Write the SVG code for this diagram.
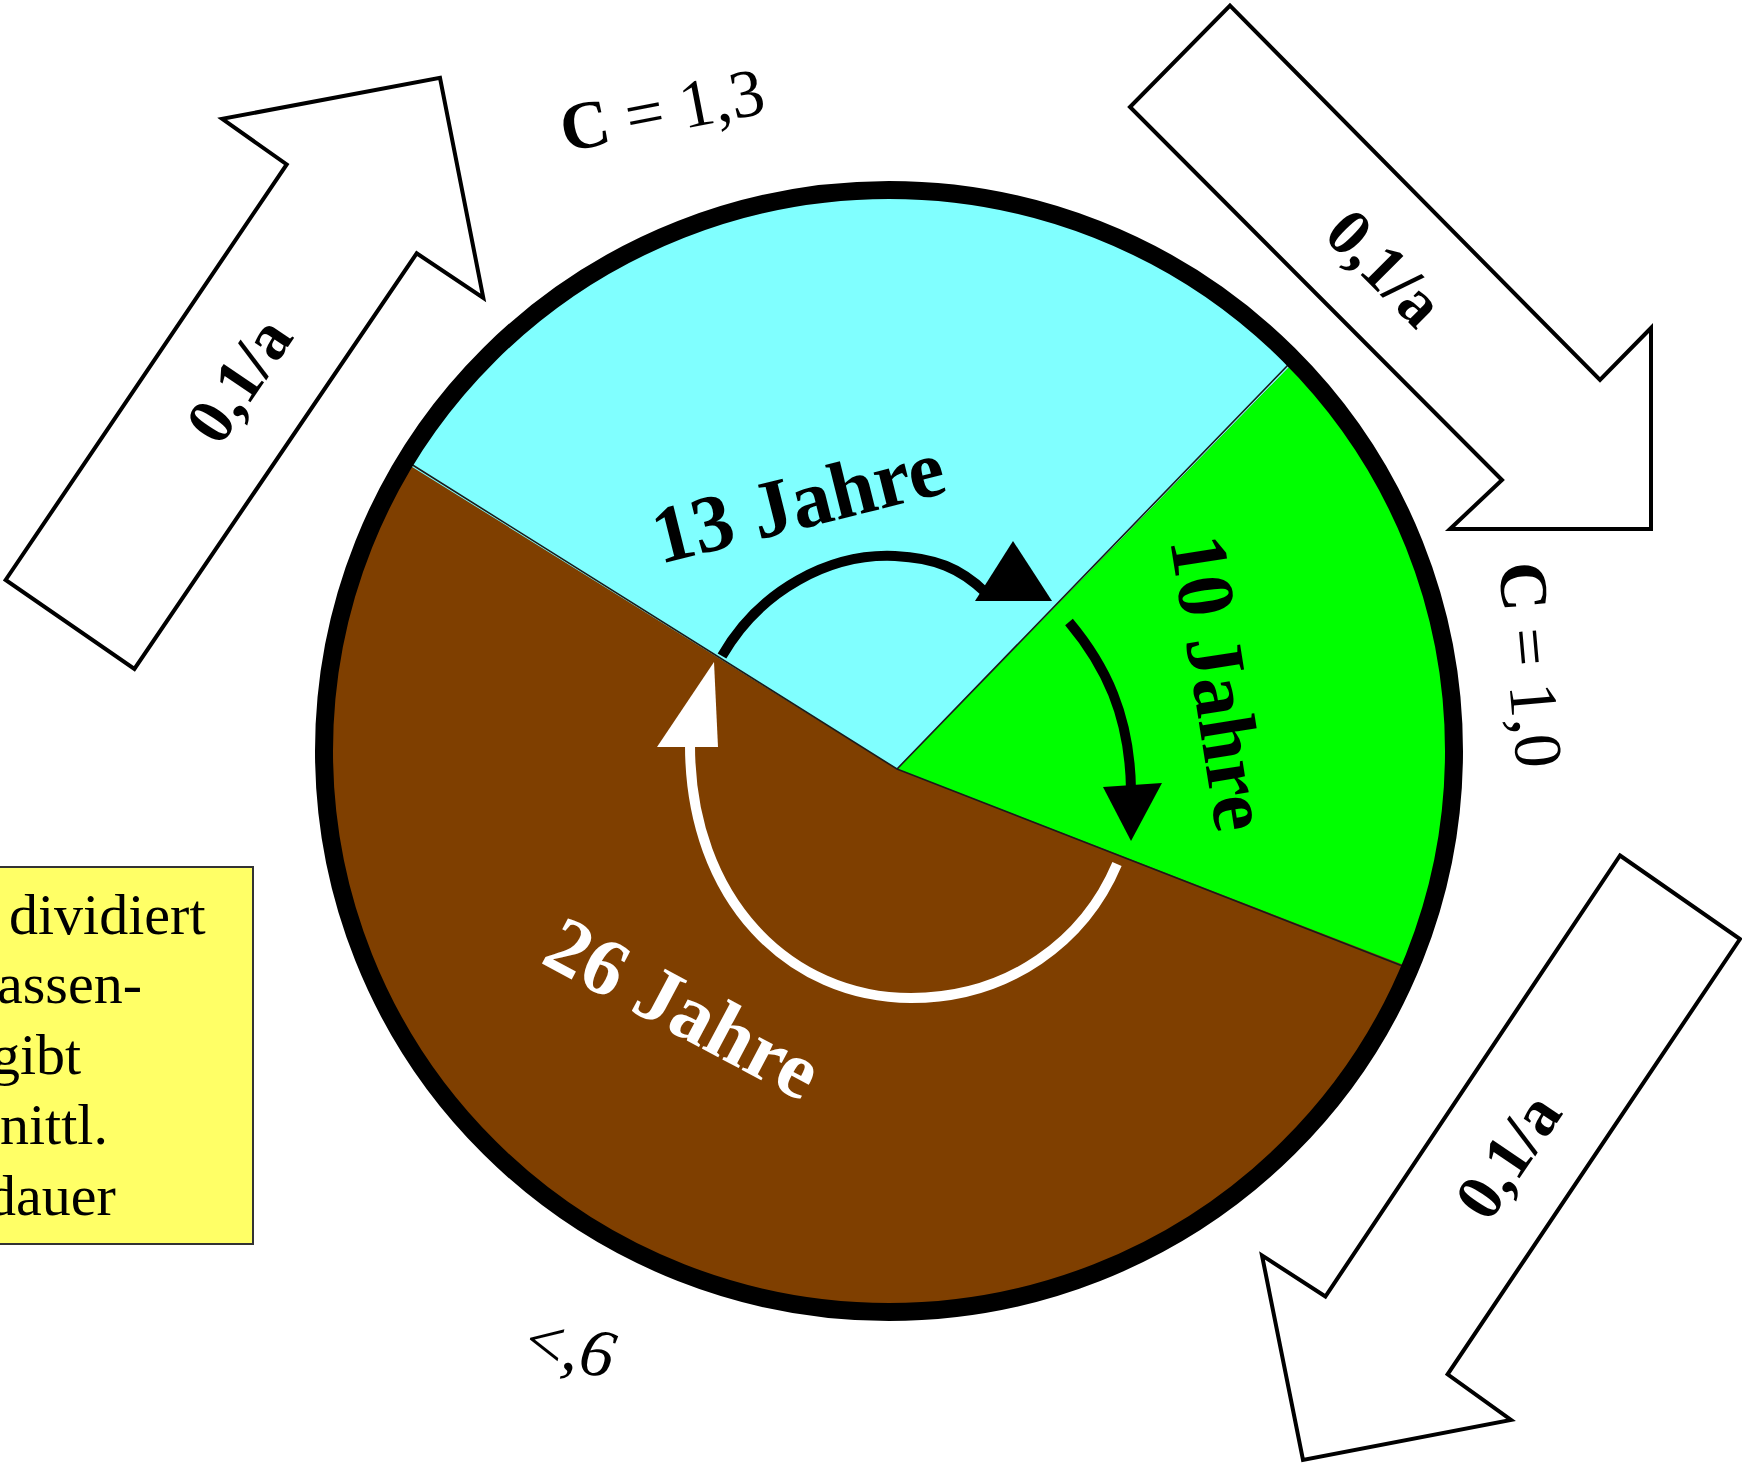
<svg xmlns="http://www.w3.org/2000/svg" width="1742" height="1465" viewBox="0 0 1742 1465">
<style>
.blk{fill:#fff;stroke:#000;stroke-width:4;stroke-linejoin:miter}
.serif{font-family:"Liberation Serif","Times New Roman",serif}
.lbl{font-weight:bold;font-size:66px;fill:#000}
.c{font-size:68px;fill:#000}
.yr{font-weight:bold;font-size:81px}
.box{font-size:58px;fill:#000}
.bnd{fill:none;stroke:#1a1a1a;stroke-width:1.6}
.cyc{fill:none;stroke-width:10}
</style>
<rect x="0" y="0" width="1742" height="1465" fill="#fff"/>

<g id="pool">
  <ellipse cx="889" cy="751" rx="565" ry="561" fill="#7F3F00"/>
  <path d="M 897 769 L 404.6 462.2 A 565 561 0 0 1 1295.1 360.9 Z" fill="#80FFFF"/>
  <path d="M 897 769 L 1295.1 360.9 A 565 561 0 0 1 1410.2 967.6 Z" fill="#00FF00"/>
  <path class="bnd" d="M 411 464 L 897 769 L 1289 364 M 897 769 L 1405 967"/>
  <ellipse cx="889" cy="751" rx="565" ry="561" fill="none" stroke="#000" stroke-width="18"/>
</g>

<g id="cycle-arrows">
  <path class="cyc" stroke="#000" d="M 722 656 C 760 590, 830 553, 895 556 C 935 558, 960 568, 985 592"/>
  <polygon points="975,601 1052,601 1013,541" fill="#000"/>
  <path class="cyc" stroke="#000" d="M 1069 622 C 1105 665, 1130 715, 1131 790"/>
  <polygon points="1103,787 1162,783 1131,841" fill="#000"/>
  <path class="cyc" stroke="#fff" stroke-width="11" d="M 1117 864 C 1085 940, 1010 998, 911 998 C 790 998, 690 900, 690 745"/>
  <polygon points="657,747 718,747 714,662" fill="#fff"/>
</g>

<g id="label-13">
  <text class="serif yr" fill="#000" transform="translate(660,564) rotate(-14)">13 Jahre</text>
</g>
<g id="label-10">
  <text class="serif yr" fill="#000" transform="translate(1170,540) rotate(81)">10 Jahre</text>
</g>
<g id="label-26">
  <text class="serif yr" fill="#fff" transform="translate(539,962) rotate(28)">26 Jahre</text>
</g>

<g id="flow-in">
  <polygon class="blk" points="5.6,580 286.7,164.4 222.2,118.9 440,77.8 483.3,297.8 416.7,253.3 134.4,668.9"/>
  <text class="serif lbl" text-anchor="middle" y="22" transform="translate(239,380) rotate(-56)">0,1/a</text>
</g>
<g id="flow-mid">
  <polygon class="blk" points="1230,5.6 1600,380 1651,328 1651,529 1450,529 1502,480 1130,107"/>
  <text class="serif lbl" text-anchor="middle" y="22" transform="translate(1385,268) rotate(45)">0,1/a</text>
</g>
<g id="flow-out">
  <polygon class="blk" points="1620,855.5 1740,939 1447.6,1374.3 1511,1420 1303,1460 1262,1255.4 1325.4,1296.5"/>
  <text class="serif lbl" text-anchor="middle" y="22" transform="translate(1508,1156) rotate(-56)">0,1/a</text>
</g>

<g id="c-labels">
  <text class="serif c" transform="translate(565,152) rotate(-11)"><tspan font-weight="bold">C</tspan> = 1,3</text>
  <text class="serif c" transform="translate(1499,564) rotate(85)"><tspan font-weight="bold">C</tspan> = 1,0</text>
  <text class="serif c" font-size="66" transform="translate(522,1360) rotate(12)">&lt;,<tspan font-style="italic">6</tspan></text>
</g>

<g id="note">
  <rect x="-5" y="867" width="258" height="377" fill="#FFFF66" stroke="#333" stroke-width="2"/>
  <text class="serif box" x="9" y="934">dividiert</text>
  <text class="serif box" x="-3" y="1003">assen-</text>
  <text class="serif box" x="-9" y="1074">gibt</text>
  <text class="serif box" x="0" y="1144">nittl.</text>
  <text class="serif box" x="-13" y="1215">dauer</text>
</g>
</svg>
